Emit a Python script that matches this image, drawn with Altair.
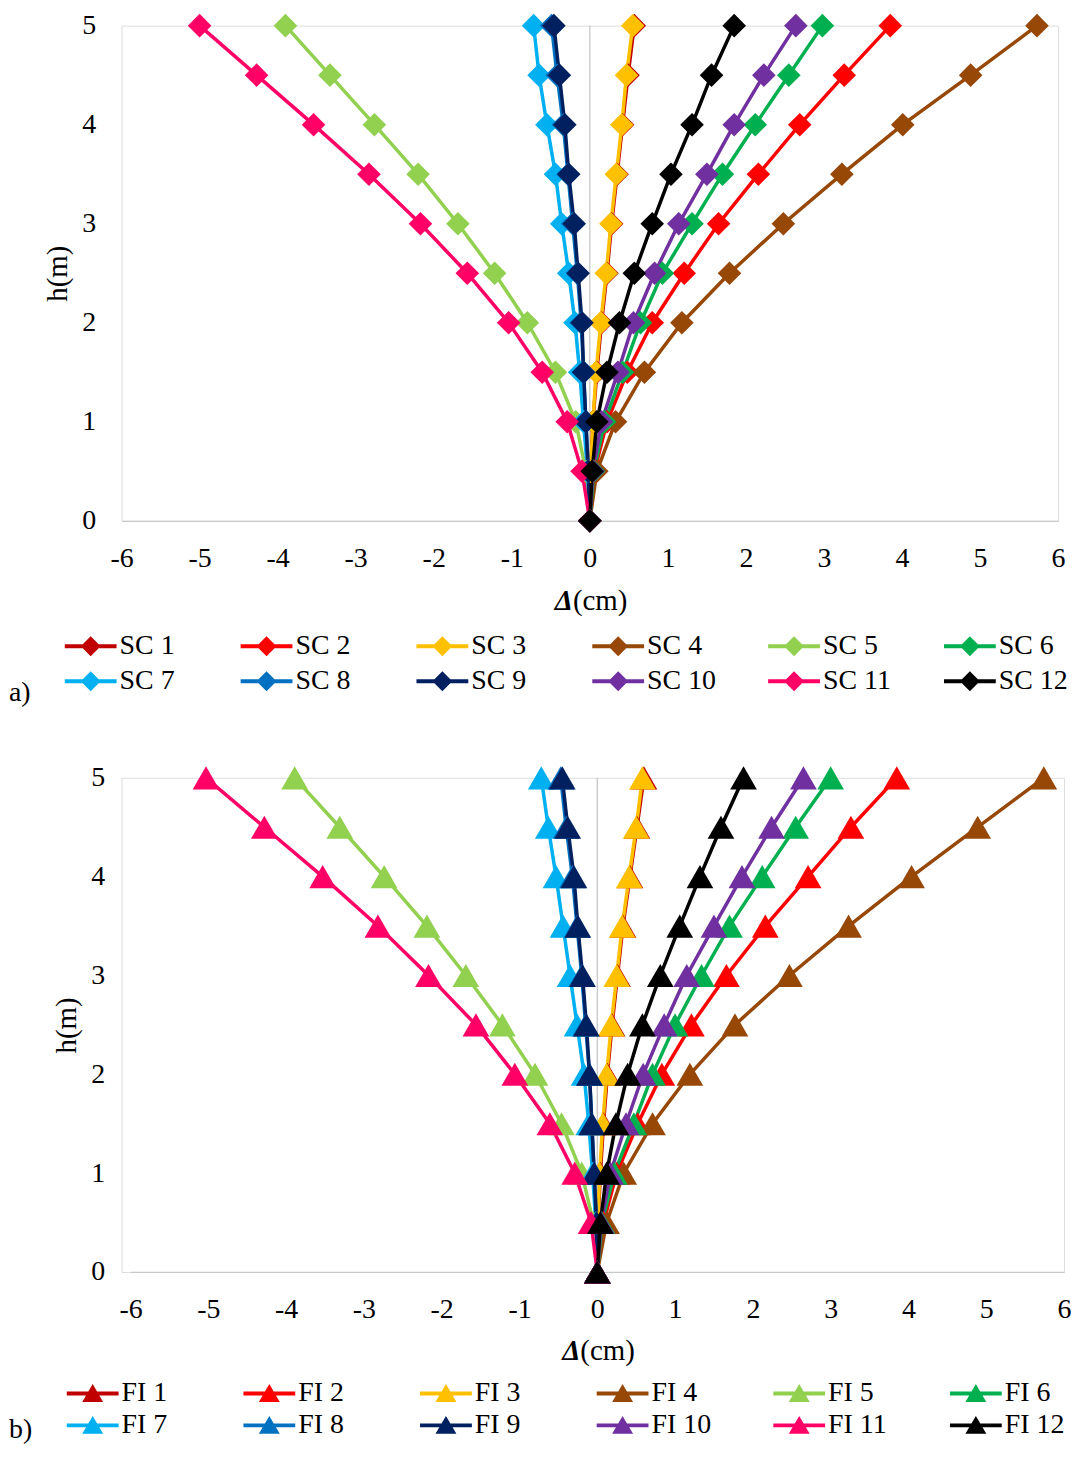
import altair as alt
import pandas as pd

# heights (m)
H_LEVELS = [0, 0.5, 1, 1.5, 2, 2.5, 3, 3.5, 4, 4.5, 5]

SC_NAMES = [f"SC {i}" for i in range(1, 13)]
FI_NAMES = [f"FI {i}" for i in range(1, 13)]
COLORS = ["#C00000", "#FF0000", "#FFC000", "#974706", "#92D050", "#00B050",
          "#00B0F0", "#0070C0", "#002060", "#7030A0", "#FF0066", "#000000"]

# lateral displacement (cm), from h=0 up to h=5 -- panel a)
SC_1 = [0, 0.01, 0.04, 0.09, 0.15, 0.22, 0.28, 0.35, 0.42, 0.49, 0.57]
SC_2 = [0, 0.06, 0.22, 0.48, 0.80, 1.21, 1.65, 2.16, 2.69, 3.26, 3.85]
SC_3 = [0, 0.01, 0.04, 0.08, 0.14, 0.21, 0.27, 0.34, 0.41, 0.47, 0.55]
SC_4 = [0, 0.09, 0.33, 0.70, 1.18, 1.79, 2.48, 3.23, 4.01, 4.88, 5.73]
SC_5 = [0, -0.05, -0.18, -0.44, -0.80, -1.22, -1.69, -2.20, -2.76, -3.33, -3.90]
SC_6 = [0, 0.05, 0.19, 0.42, 0.65, 0.93, 1.31, 1.70, 2.12, 2.55, 2.98]
SC_7 = [0, -0.03, -0.08, -0.13, -0.19, -0.27, -0.36, -0.44, -0.55, -0.65, -0.72]
SC_8 = [0, -0.02, -0.05, -0.08, -0.11, -0.16, -0.22, -0.28, -0.34, -0.42, -0.49]
SC_9 = [0, -0.02, -0.05, -0.08, -0.10, -0.15, -0.20, -0.27, -0.32, -0.39, -0.46]
SC_10 = [0, 0.04, 0.15, 0.36, 0.56, 0.83, 1.14, 1.50, 1.85, 2.23, 2.64]
SC_11 = [0, -0.10, -0.29, -0.61, -1.04, -1.57, -2.17, -2.83, -3.54, -4.27, -5.00]
SC_12 = [0, 0.03, 0.09, 0.22, 0.38, 0.57, 0.80, 1.04, 1.31, 1.56, 1.85]

# panel b)
FI_1 = [0, 0.01, 0.04, 0.08, 0.13, 0.19, 0.26, 0.33, 0.42, 0.51, 0.60]
FI_2 = [0, 0.08, 0.25, 0.52, 0.83, 1.21, 1.66, 2.16, 2.71, 3.26, 3.85]
FI_3 = [0, 0.01, 0.03, 0.07, 0.12, 0.18, 0.25, 0.32, 0.41, 0.50, 0.58]
FI_4 = [0, 0.12, 0.34, 0.71, 1.19, 1.77, 2.47, 3.23, 4.04, 4.89, 5.74]
FI_5 = [0, -0.05, -0.20, -0.46, -0.80, -1.22, -1.69, -2.19, -2.74, -3.31, -3.89]
FI_6 = [0, 0.06, 0.22, 0.47, 0.71, 1.00, 1.34, 1.70, 2.12, 2.55, 3.00]
FI_7 = [0, -0.02, -0.06, -0.11, -0.17, -0.26, -0.35, -0.44, -0.53, -0.63, -0.72]
FI_8 = [0, -0.01, -0.04, -0.07, -0.10, -0.15, -0.20, -0.26, -0.32, -0.40, -0.47]
FI_9 = [0, -0.01, -0.04, -0.07, -0.10, -0.14, -0.19, -0.25, -0.30, -0.38, -0.45]
FI_10 = [0, 0.05, 0.17, 0.37, 0.59, 0.86, 1.15, 1.50, 1.86, 2.24, 2.65]
FI_11 = [0, -0.08, -0.29, -0.61, -1.06, -1.56, -2.17, -2.82, -3.53, -4.28, -5.03]
FI_12 = [0, 0.04, 0.12, 0.24, 0.39, 0.58, 0.81, 1.06, 1.32, 1.59, 1.88]

SC_SERIES = [SC_1, SC_2, SC_3, SC_4, SC_5, SC_6, SC_7, SC_8, SC_9, SC_10, SC_11, SC_12]
FI_SERIES = [FI_1, FI_2, FI_3, FI_4, FI_5, FI_6, FI_7, FI_8, FI_9, FI_10, FI_11, FI_12]

X_TICKS = list(range(-6, 7))
Y_TICKS = [0, 1, 2, 3, 4, 5]

FONT = "Liberation Serif"
GREY = "#C8C8C8"

DIAMOND_SYM = "M-2.6,-0.2L2.6,-0.2L2.6,0.2L-2.6,0.2Z M0,-1L1,0L0,1L-1,0Z"
TRIANGLE_SYM = "M-2.6,-0.2L2.6,-0.2L2.6,0.2L-2.6,0.2Z M0,-0.95L1.05,0.85L-1.05,0.85Z"


def long_df(names, series):
    rows = []
    for name, vals in zip(names, series):
        for h, d in zip(H_LEVELS, vals):
            rows.append({"series": name, "h": h, "d": d})
    return pd.DataFrame(rows)


def panel(names, series, shape, size, sym_path, tag, W, H, inset, legend_x, legend_dy,
          row_pad, col_pad, tag_dy, title_dy):
    df = long_df(names, series)
    xscale = alt.Scale(domain=[-6, 6], range=[inset, W], nice=False, zero=False)
    yscale = alt.Scale(domain=[0, 5], nice=False, zero=False)
    cscale = alt.Scale(domain=names, range=COLORS)
    xaxis = alt.Axis(values=X_TICKS, title=None, grid=False, ticks=False, tickSize=0,
                     domainColor=GREY, domainWidth=1.3, labelFont=FONT, labelFontSize=28,
                     labelColor="black", labelPadding=24, labelFlush=False,
                     labelExpr="'' + datum.value")
    yaxis = alt.Axis(values=Y_TICKS, title="h(m)", grid=False, ticks=False, tickSize=0,
                     domain=False, labelFont=FONT, labelFontSize=28, labelColor="black",
                     labelPadding=26, titleFont=FONT, titleFontSize=29,
                     titleFontWeight="normal", titleColor="black", titlePadding=9,
                     offset=-inset)
    legend = alt.Legend(title=None, orient="none", legendX=legend_x, legendY=H + legend_dy,
                        columns=6, direction="horizontal", gridAlign="all",
                        columnPadding=col_pad, rowPadding=row_pad, symbolType=sym_path,
                        symbolSize=400, symbolStrokeWidth=0, symbolOpacity=1,
                        labelFont=FONT, labelFontSize=28, labelColor="black",
                        labelOffset=15, labelLimit=300)

    rule_df = pd.DataFrame({"x0": [0], "y0": [0], "y1": [5]})
    rule = alt.Chart(rule_df).mark_rule(color=GREY, strokeWidth=1.3).encode(
        x=alt.X("x0:Q", scale=xscale, axis=xaxis),
        y=alt.Y("y0:Q", scale=yscale, axis=yaxis),
        y2="y1:Q",
    )
    lines = alt.Chart(df).mark_line(strokeWidth=3.5).encode(
        x=alt.X("d:Q", scale=xscale, axis=xaxis),
        y=alt.Y("h:Q", scale=yscale, axis=yaxis),
        color=alt.Color("series:N", scale=cscale, legend=legend),
        order="h:Q",
    )
    points = alt.Chart(df).mark_point(filled=True, shape=shape, size=size, opacity=1).encode(
        x=alt.X("d:Q", scale=xscale, axis=xaxis),
        y=alt.Y("h:Q", scale=yscale, axis=yaxis),
        color=alt.Color("series:N", scale=cscale, legend=legend),
    )
    one = pd.DataFrame({"k": [0]})
    cx = inset + (W - inset) / 2
    tag_text = alt.Chart(one).mark_text(text=tag, font=FONT, fontSize=28, align="left",
                                        baseline="middle", color="black").encode(
        x=alt.value(-113), y=alt.value(H + tag_dy))
    delta = alt.Chart(one).mark_text(text="Δ", font=FONT, fontSize=29, fontStyle="italic",
                                     fontWeight="bold", align="right", baseline="middle",
                                     color="black").encode(
        x=alt.value(cx - 17), y=alt.value(H + title_dy))
    cm = alt.Chart(one).mark_text(text="(cm)", font=FONT, fontSize=29, align="left",
                                  baseline="middle", color="black").encode(
        x=alt.value(cx - 17), y=alt.value(H + title_dy))
    return alt.layer(rule, lines, points, tag_text, delta, cm).properties(width=W, height=H)


top = panel(SC_NAMES, SC_SERIES, "diamond", 560, DIAMOND_SYM, "a)", 940, 497, 0,
            -45, 112, 7, 51.5, 173, 81)
bottom = panel(FI_NAMES, FI_SERIES, "triangle-up", 720, TRIANGLE_SYM, "b)", 946, 496, 9,
               -43, 108, 4, 159, 79) if False else panel(
    FI_NAMES, FI_SERIES, "triangle-up", 720, TRIANGLE_SYM, "b)", 946, 496, 9,
    -43, 108, 4, 62.3, 159, 79)

chart = alt.vconcat(top, bottom, spacing=258, bounds="flush").resolve_scale(
    x="independent", y="independent", color="independent"
).properties(
    padding=0
).configure_view(strokeWidth=0, stroke="transparent").configure(font=FONT)

chart.save("out.html", embed_options={"renderer": "svg", "actions": False})
